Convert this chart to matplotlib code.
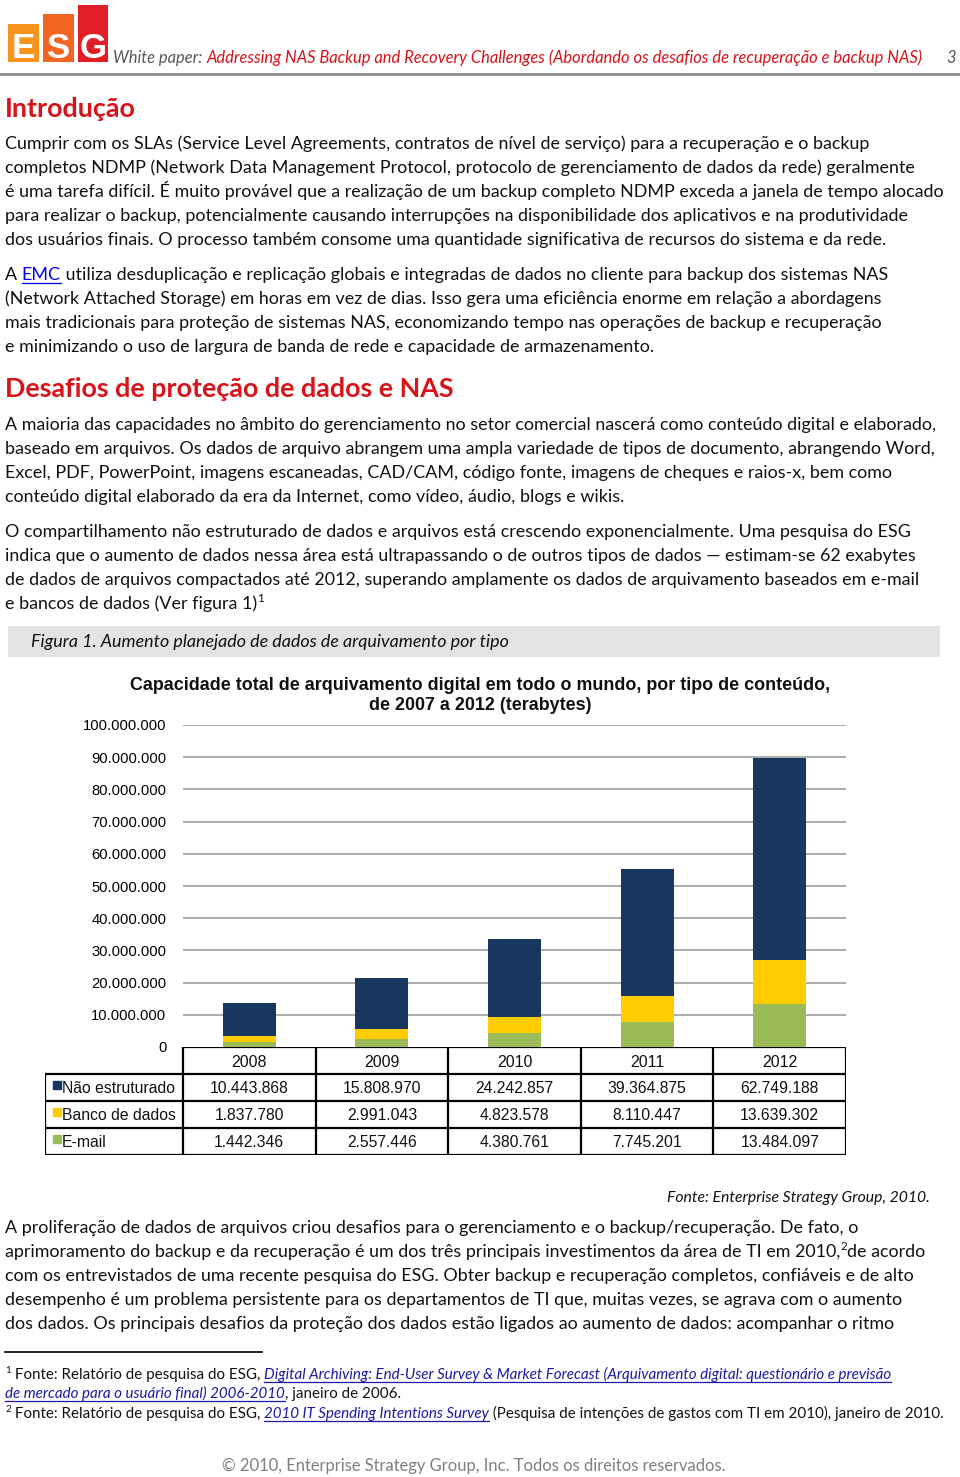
import matplotlib
matplotlib.use('Agg')
import matplotlib.pyplot as plt
from matplotlib.patches import Rectangle
from matplotlib import font_manager

# Chart data (terabytes)
years = ['2008', '2009', '2010', '2011', '2012']
series_names = ['Não estruturado', 'Banco de dados', 'E-mail']
nao_estruturado = [10443868, 15808970, 24242857, 39364875, 62749188]
banco_de_dados = [1837780, 2991043, 4823578, 8110447, 13639302]
email = [1442346, 2557446, 4380761, 7745201, 13484097]
y_ticks = [0, 10000000, 20000000, 30000000, 40000000, 50000000,
           60000000, 70000000, 80000000, 90000000, 100000000]

W, H = 960, 1477
BODY = ['Lato', 'DejaVu Sans']
names = {f.name for f in font_manager.fontManager.ttflist}
CHART = ['Liberation Sans Narrow', 'Liberation Sans'] if 'Liberation Sans Narrow' in names else ['Liberation Sans']
RED = '#D7141A'
TXT = '#111111'
NAVY = '#17375E'
YELLOW = '#FFCC00'
GREEN = '#9BBB59'

fig = plt.figure(figsize=(W / 100, H / 100), dpi=100)
fig.patch.set_facecolor('white')
renderer = fig.canvas.get_renderer()


def fx(x):
    return x / W


def fy(y):
    return 1 - y / H


def text_width(s, size, **kw):
    t = fig.text(0, 0, s, fontsize=size, **kw)
    w = t.get_window_extent(renderer).width
    t.remove()
    return w


def fit(s, width, **kw):
    return 10 * width / text_width(s, 10, **kw)


def runs(x, y, parts, size, family=BODY, color=TXT):
    # draw a line made of differently styled pieces, left to right
    for part in parts:
        if isinstance(part, str):
            part = (part, {})
        s, st = part
        st = dict(st)
        sup = st.pop('sup', False)
        under = st.pop('underline', False)
        col = st.pop('color', color)
        sz = size * 0.65 if sup else size
        yy = y - size * 0.55 if sup else y
        t = fig.text(fx(x), fy(yy), s, fontsize=sz, family=family, color=col,
                     va='baseline', ha='left', **st)
        w = t.get_window_extent(renderer).width
        if under:
            fig.add_artist(plt.Line2D([fx(x), fx(x + w)], [fy(y + 2.5), fy(y + 2.5)],
                                      color=col, lw=0.9))
        x += w
    return x


# body font size fitted to the longest line of the page
longest = 'é uma tarefa difícil. É muito provável que a realização de um backup completo NDMP exceda a janela de tempo alocado'
BS = fit(longest, 938, family=BODY)

# ---------------- header ----------------
for (x0, y0, x1, col, letter) in [(8, 24, 39, '#F7941D', 'E'),
                                  (43, 14, 74, '#F26522', 'S'),
                                  (78, 5, 108, '#E21F26', 'G')]:
    fig.add_artist(Rectangle((fx(x0), fy(62)), (x1 - x0) / W, (62 - y0) / H,
                             transform=fig.transFigure, color=col, lw=0))
    fig.text(fx((x0 + x1) / 2), fy(58), letter, fontsize=25, fontweight='bold',
             color='white', ha='center', va='baseline', family=['Liberation Sans'])
head_a = 'White paper: '
head_b = 'Addressing NAS Backup and Recovery Challenges (Abordando os desafios de recuperação e backup NAS)'
HS = fit(head_a + head_b, 813, family=BODY, style='italic')
runs(113, 63, [(head_a, {'style': 'italic', 'color': '#595959'}),
               (head_b, {'style': 'italic', 'color': RED})], HS)
fig.text(fx(956), fy(63), '3', fontsize=HS, style='italic', color='#595959',
         ha='right', va='baseline', family=BODY)
fig.add_artist(plt.Line2D([0, 1], [fy(74), fy(74)], color='#8C8C8C', lw=2))

# ---------------- intro ----------------
fig.text(fx(5), fy(117), 'Introdução', fontsize=BS * 1.5, fontweight='bold', color=RED,
         family=BODY, va='baseline')

p1 = ['Cumprir com os SLAs (Service Level Agreements, contratos de nível de serviço) para a recuperação e o backup',
      'completos NDMP (Network Data Management Protocol, protocolo de gerenciamento de dados da rede) geralmente',
      longest,
      'para realizar o backup, potencialmente causando interrupções na disponibilidade dos aplicativos e na produtividade',
      'dos usuários finais. O processo também consome uma quantidade significativa de recursos do sistema e da rede.']
for i, line in enumerate(p1):
    runs(5, 149 + 24 * i, [line], BS)

runs(5, 280, ['A ', ('EMC', {'color': '#0000EE', 'underline': True}),
              ' utiliza desduplicação e replicação globais e integradas de dados no cliente para backup dos sistemas NAS'], BS)
p2 = ['(Network Attached Storage) em horas em vez de dias. Isso gera uma eficiência enorme em relação a abordagens',
      'mais tradicionais para proteção de sistemas NAS, economizando tempo nas operações de backup e recuperação',
      'e minimizando o uso de largura de banda de rede e capacidade de armazenamento.']
for i, line in enumerate(p2):
    runs(5, 304 + 24 * i, [line], BS)

fig.text(fx(5), fy(397), 'Desafios de proteção de dados e NAS', fontsize=BS * 1.5, fontweight='bold',
         color=RED, family=BODY, va='baseline')

p3 = ['A maioria das capacidades no âmbito do gerenciamento no setor comercial nascerá como conteúdo digital e elaborado,',
      'baseado em arquivos. Os dados de arquivo abrangem uma ampla variedade de tipos de documento, abrangendo Word,',
      'Excel, PDF, PowerPoint, imagens escaneadas, CAD/CAM, código fonte, imagens de cheques e raios-x, bem como',
      'conteúdo digital elaborado da era da Internet, como vídeo, áudio, blogs e wikis.']
for i, line in enumerate(p3):
    runs(5, 430 + 24 * i, [line], BS)

p4 = ['O compartilhamento não estruturado de dados e arquivos está crescendo exponencialmente. Uma pesquisa do ESG',
      'indica que o aumento de dados nessa área está ultrapassando o de outros tipos de dados — estimam-se 62 exabytes',
      'de dados de arquivos compactados até 2012, superando amplamente os dados de arquivamento baseados em e-mail']
for i, line in enumerate(p4):
    runs(5, 537 + 24 * i, [line], BS)
runs(5, 609, ['e bancos de dados (Ver figura 1)', ('1', {'sup': True})], BS)

# figure caption band
fig.add_artist(Rectangle((fx(8), fy(657)), 932 / W, 31 / H, transform=fig.transFigure,
                         color='#E3E3E3', lw=0))
fig.text(fx(31), fy(647), 'Figura 1. Aumento planejado de dados de arquivamento por tipo',
         fontsize=BS, style='italic', color=TXT, family=BODY, va='baseline')

# ---------------- chart ----------------
ax = fig.add_axes([fx(183), fy(1047), (846 - 183) / W, (1047 - 725) / H])
x = list(range(len(years)))
bottom2 = [e + b for e, b in zip(email, banco_de_dados)]
ax.bar(x, email, width=0.4, color=GREEN, zorder=3)
ax.bar(x, banco_de_dados, width=0.4, bottom=email, color=YELLOW, zorder=3)
ax.bar(x, nao_estruturado, width=0.4, bottom=bottom2, color=NAVY, zorder=3)
ax.set_xlim(-0.5, len(years) - 0.5)
ax.set_ylim(0, 100000000)
ax.set_yticks(y_ticks)
ax.set_yticklabels([f'{v:,}'.replace(',', '.') for v in y_ticks], family=CHART, fontsize=10.6)
ax.tick_params(axis='y', length=0, pad=12)
ax.set_xticks([])
for v in y_ticks[1:]:
    ax.axhline(v, color='#A6A6A6', lw=1.3, zorder=1)
for s in ax.spines.values():
    s.set_visible(False)
ax.patch.set_alpha(0)

title1 = 'Capacidade total de arquivamento digital em todo o mundo, por tipo de conteúdo,'
TS = fit(title1, 696, family=CHART, fontweight='bold')
fig.text(fx(480), fy(690), title1, fontsize=TS, fontweight='bold', family=CHART,
         ha='center', va='baseline', color=TXT)
fig.text(fx(480), fy(710), 'de 2007 a 2012 (terabytes)', fontsize=TS, fontweight='bold',
         family=CHART, ha='center', va='baseline', color=TXT)

# data table under the chart
tax = fig.add_axes([fx(45), fy(1155), (846 - 45) / W, (1155 - 1047) / H])
left = -0.5 - (183 - 45) / ((846 - 183) / len(years))
tax.set_xlim(left, len(years) - 0.5)
tax.set_ylim(4, 0)
tax.axis('off')
lk = dict(color='black', lw=1.6, solid_capstyle='projecting')
tax.plot([-0.5, len(years) - 0.5], [0, 0], **lk)
for r in range(1, 5):
    tax.plot([left, len(years) - 0.5], [r, r], **lk)
for c in range(len(years) + 1):
    tax.plot([c - 0.5, c - 0.5], [0, 4], **lk)
tax.plot([left, left], [1, 4], **lk)
for i, yr in enumerate(years):
    tax.text(i, 0.58, yr, ha='center', va='center', family=CHART, fontsize=11.5, color=TXT)
rows = [nao_estruturado, banco_de_dados, email]
cols = [NAVY, YELLOW, GREEN]
for r, (name, vals, col) in enumerate(zip(series_names, rows, cols)):
    yy = r + 1.55
    tax.plot([left + 0.09], [yy - 0.15], marker='s', ms=5.5, color=col, ls='none')
    tax.text(left + 0.13, yy, name, ha='left', va='center', family=CHART, fontsize=11.3, color=TXT)
    for i, v in enumerate(vals):
        tax.text(i, yy, f'{v:,}'.replace(',', '.'), ha='center', va='center',
                 family=CHART, fontsize=11.3, color=TXT)

fig.text(fx(930), fy(1202), 'Fonte: Enterprise Strategy Group, 2010.', fontsize=BS * 0.88,
         style='italic', color=TXT, family=BODY, ha='right', va='baseline')

# ---------------- text after chart ----------------
runs(5, 1233, ['A proliferação de dados de arquivos criou desafios para o gerenciamento e o backup/recuperação. De fato, o'], BS)
runs(5, 1257, ['aprimoramento do backup e da recuperação é um dos três principais investimentos da área de TI em 2010,',
               ('2', {'sup': True}), 'de acordo'], BS)
p5 = ['com os entrevistados de uma recente pesquisa do ESG. Obter backup e recuperação completos, confiáveis e de alto',
      'desempenho é um problema persistente para os departamentos de TI que, muitas vezes, se agrava com o aumento',
      'dos dados. Os principais desafios da proteção dos dados estão ligados ao aumento de dados: acompanhar o ritmo']
for i, line in enumerate(p5):
    runs(5, 1281 + 24 * i, [line], BS)

# footnotes
fig.add_artist(plt.Line2D([fx(5), fx(262)], [fy(1352), fy(1352)], color='black', lw=1.2))
FS = BS * 0.843
LINK = {'style': 'italic', 'color': '#1A1AA6', 'underline': True}
runs(5, 1379, [('1', {'sup': True}), ' Fonte: Relatório de pesquisa do ESG, ',
               ('Digital Archiving: End-User Survey & Market Forecast (Arquivamento digital: questionário e previsão', LINK)], FS)
runs(5, 1398, [('de mercado para o usuário final) 2006-2010', LINK), ', janeiro de 2006.'], FS)
runs(5, 1418, [('2', {'sup': True}), ' Fonte: Relatório de pesquisa do ESG, ',
               ('2010 IT Spending Intentions Survey', LINK),
               ' (Pesquisa de intenções de gastos com TI em 2010), janeiro de 2010.'], FS)

copy = '© 2010, Enterprise Strategy Group, Inc. Todos os direitos reservados.'
fig.text(fx(474), fy(1471), copy, fontsize=fit(copy, 504, family=BODY), color='#7F7F7F',
         family=BODY, ha='center', va='baseline')

fig.savefig('out.png', dpi=100)
